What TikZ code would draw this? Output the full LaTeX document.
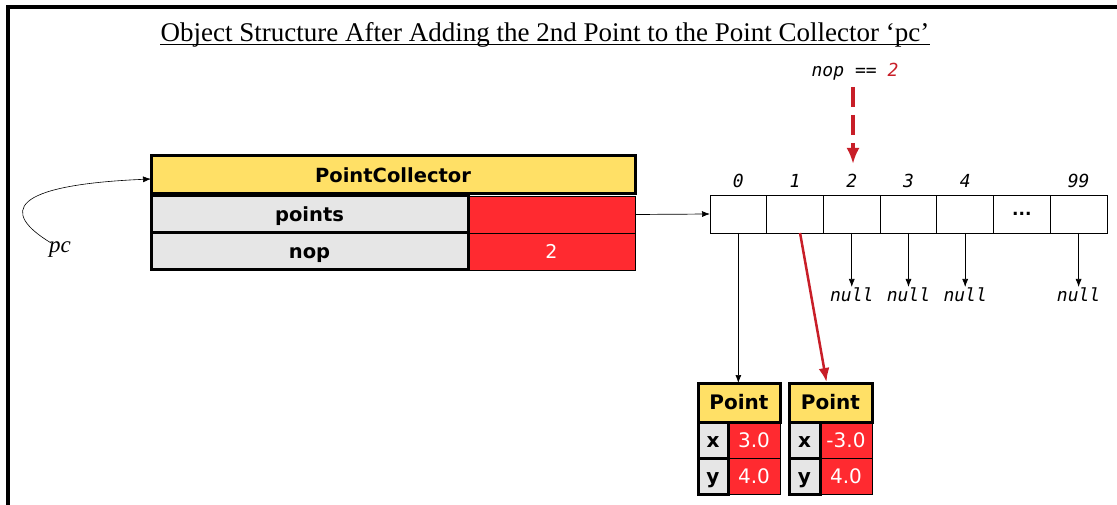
\documentclass[tikz,border=0pt]{standalone}
\usepackage{fontspec}
\setmainfont{Liberation Serif}
\newfontfamily\dvs{DejaVu Sans}
\newfontfamily\dvm{DejaVu Sans Mono}
\usetikzlibrary{arrows.meta,calc}
\definecolor{ylw}{RGB}{255,224,102}
\definecolor{gry}{RGB}{230,230,230}
\definecolor{rcell}{RGB}{255,42,48}
\definecolor{rarrow}{RGB}{200,30,40}
\tikzset{
  box/.style={draw, inner sep=0pt, outer sep=0pt, text height=14.5pt, text depth=0pt},
  hdr/.style={box, line width=3pt, fill=ylw, font=\dvs\bfseries\fontsize{19.5}{21}\selectfont},
  lbl/.style={box, line width=3pt, fill=gry, font=\dvs\bfseries\fontsize{19.5}{21}\selectfont},
  val/.style={box, line width=0.6pt, fill=rcell, text=white, font=\dvs\fontsize{19}{21}\selectfont},
  sm/.style={font=\dvs\bfseries\fontsize{20}{22}\selectfont},
  smv/.style={font=\dvs\fontsize{20}{22}\selectfont},
  cell/.style={draw, inner sep=0pt, outer sep=0pt, line width=0.8pt, minimum width=56.7pt, minimum height=38pt},
  idx/.style={inner sep=1pt, font=\dvm\itshape\fontsize{18}{20}\selectfont},
  nul/.style={inner sep=1pt, anchor=north, font=\dvm\itshape\fontsize{18}{20}\selectfont},
  arr/.style={line width=0.7pt, -{Latex[length=8pt,width=6pt]}},
  rarr/.style={draw=rarrow, line width=2.5pt, -{Latex[length=14pt,width=11pt]}},
}
\begin{document}
\begin{tikzpicture}[x=1pt,y=-1pt]
\useasboundingbox (0,0) rectangle (1117,505);
\draw[line width=4pt] (7.5,505) -- (7.5,7) -- (1117,7);
\node[font=\fontsize{27}{30}\selectfont, anchor=base, inner sep=0pt] (title) at (545,42) {Object Structure After Adding the 2nd Point to the Point Collector ‘pc’};
\draw[line width=1.2pt] ($(title.base west)+(0,2.6)$) -- ($(title.base east)+(0,2.6)$);
% PointCollector object
\node[val, minimum width=167pt, minimum height=37pt] (pv) at (551.5,214.5) {};
\node[val, minimum width=167pt, minimum height=37pt] (nv) at (551.5,251.5) {2};
\node[lbl, minimum width=317pt, minimum height=37pt] (pl) at (309.5,214.5) {points};
\node[lbl, minimum width=317pt, minimum height=37pt] (nl) at (309.5,251.5) {nop};
\node[hdr, minimum width=484pt, minimum height=38pt] (hdr) at (393,175) {PointCollector};
% pc reference
\node[font=\itshape\fontsize{23}{25}\selectfont, inner sep=1pt] (pc) at (60,250) {pc};
\draw[line width=0.6pt, -{Latex[length=8pt,width=6pt]}] ($(pc.north)+(-9,2)$) .. controls (0,212) and (10,185) .. ($(hdr.west)+(0,4)$);
% array
\foreach \i in {0,...,6} {
  \node[cell] (c\i) at ({710+56.71*(\i+0.5)},214) {};
}
\node[font=\dvs\bfseries\fontsize{17}{19}\selectfont] at (c5) {...};
\foreach \i/\t in {0/0,1/1,2/2,3/3,4/4,6/99} {
  \node[idx] (i\i) at (c\i |- 0,181) {\t};
}
\draw[arr] (pv.east) -- (c0.west);
\foreach \i in {2,3,4,6} {
  \node[nul] (n\i) at (c\i |- 0,287) {null};
  \draw[arr] (c\i.south) -- (n\i.north);
}
% nop == 2
\node[idx] (nopq) at (855,72) {nop == \textcolor{rarrow}{2}};
\draw[draw=rarrow, line width=3.3pt, dash pattern=on 20pt off 8pt] (853,87) -- (853,136);
\draw[draw=rarrow, line width=3.3pt, -{Latex[length=16pt,width=13pt]}] (853,143) -- (853,164);
% Point objects
\node[val, smv, minimum width=52pt, minimum height=36pt] (x1v) at (754,440) {3.0};
\node[val, smv, minimum width=52pt, minimum height=36pt] (y1v) at (754,476) {4.0};
\node[lbl, sm, minimum width=30pt, minimum height=36pt] (x1l) at (713,440) {x};
\node[lbl, sm, minimum width=30pt, minimum height=36pt] (y1l) at (713,476) {y};
\node[hdr, sm, minimum width=82pt, minimum height=39pt] (p1) at (739,402.5) {Point};
\node[val, smv, minimum width=52pt, minimum height=36pt] (x2v) at (846,440) {-3.0};
\node[val, smv, minimum width=52pt, minimum height=36pt] (y2v) at (846,476) {4.0};
\node[lbl, sm, minimum width=31pt, minimum height=36pt] (x2l) at (804.5,440) {x};
\node[lbl, sm, minimum width=31pt, minimum height=36pt] (y2l) at (804.5,476) {y};
\node[hdr, sm, minimum width=83pt, minimum height=39pt] (p2) at (830.5,402.5) {Point};
\draw[arr] (c0.south) -- (c0.south |- p1.north);
\draw[rarr] ($(c1.south)+(5,0)$) -- ($(p2.north)+(-4,-1)$);
\end{tikzpicture}
\end{document}
